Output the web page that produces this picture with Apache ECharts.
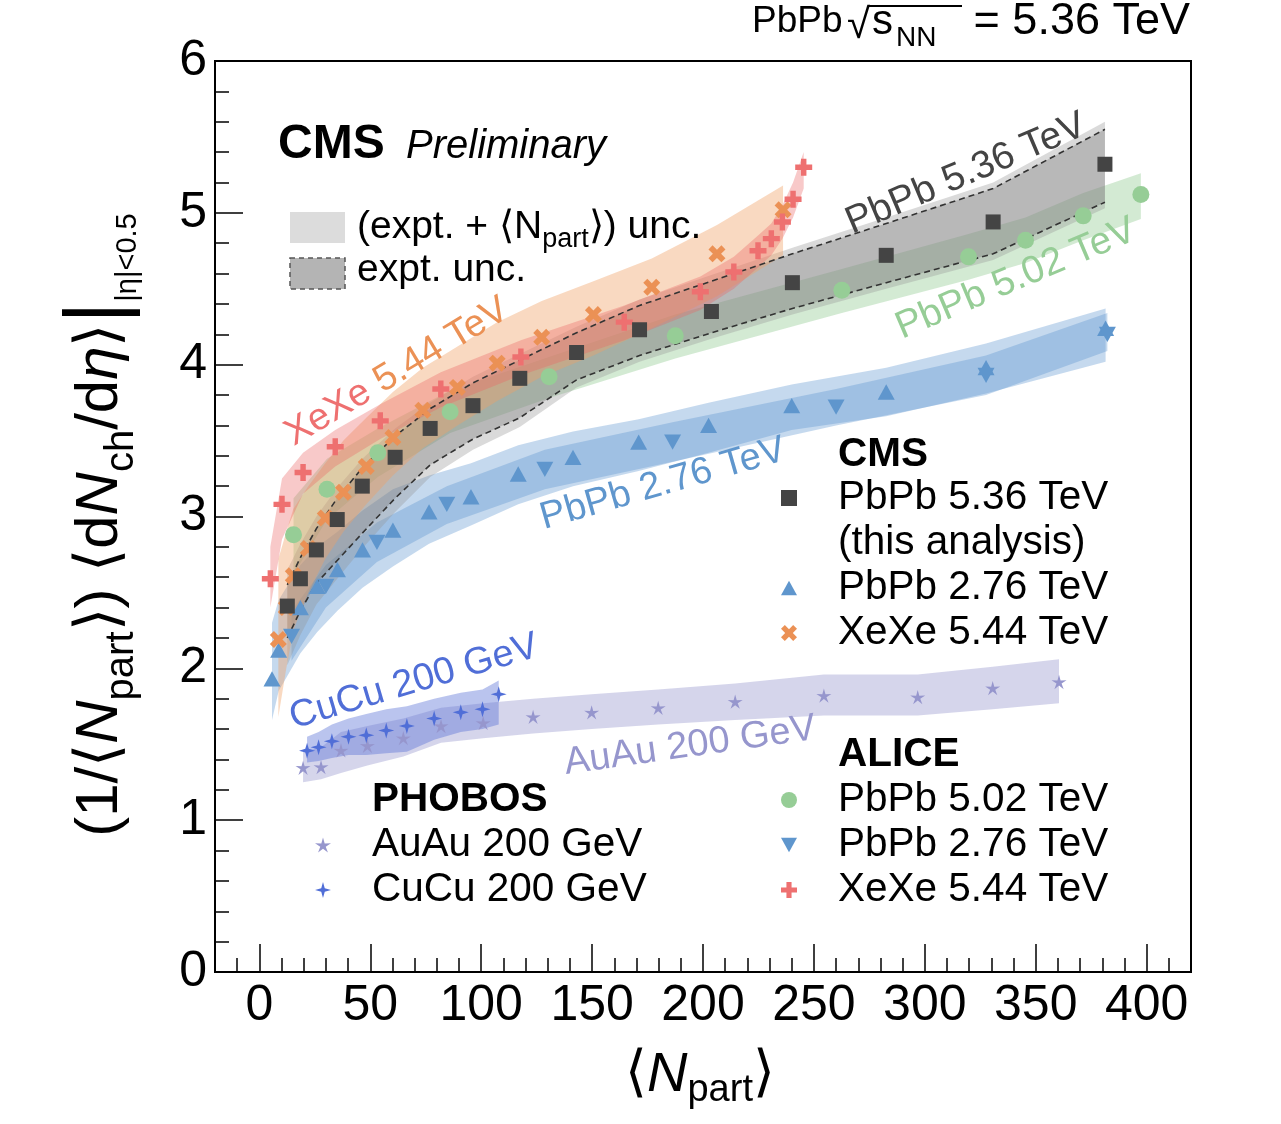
<!DOCTYPE html>
<html><head><meta charset="utf-8">
<script src="https://cdn.jsdelivr.net/npm/echarts/dist/echarts.min.js"></script>
<style>html,body{margin:0;padding:0;background:#fff}#c{width:1281px;height:1124px}</style>
</head><body><div id="c"></div>
<script>
// ---------- tick labels ----------
const xTicks = [0, 50, 100, 150, 200, 250, 300, 350, 400];
const yTicks = [0, 1, 2, 3, 4, 5, 6];

// ---------- CMS PbPb 5.36 TeV (this analysis) ----------
const cms536N = [12.6, 18.5, 25.7, 35.1, 46.4, 61.2, 77.0, 96.3, 117.4, 143.0, 171.4, 203.8, 240.3, 282.6, 330.8, 381.2];
const cms536Y = [2.41, 2.59, 2.78, 2.98, 3.20, 3.39, 3.58, 3.73, 3.91, 4.08, 4.23, 4.35, 4.54, 4.72, 4.94, 5.32];
const cms536InLo = [2.20, 2.38, 2.56, 2.71, 2.89, 3.12, 3.34, 3.51, 3.65, 3.90, 4.06, 4.21, 4.37, 4.54, 4.73, 5.07];
const cms536InHi = [2.55, 2.73, 2.92, 3.12, 3.32, 3.53, 3.71, 3.88, 4.03, 4.21, 4.39, 4.55, 4.73, 4.93, 5.16, 5.55];
const cms536OutLo = [2.02, 2.22, 2.42, 2.59, 2.79, 3.03, 3.26, 3.44, 3.59, 3.85, 4.02, 4.17, 4.33, 4.50, 4.69, 5.03];
const cms536OutHi = [2.65, 2.82, 3.00, 3.19, 3.38, 3.58, 3.75, 3.92, 4.07, 4.25, 4.43, 4.59, 4.77, 4.97, 5.20, 5.60];

// ---------- CMS PbPb 2.76 TeV ----------
const cms276N = [5.7, 8.7, 18.5, 26.1, 35.2, 46.5, 60.2, 76.5, 95.4, 116.7, 141.4, 171.0, 202.5, 240.0, 282.6, 327.6, 381.5];
const cms276Y = [1.93, 2.12, 2.40, 2.54, 2.65, 2.78, 2.91, 3.03, 3.13, 3.28, 3.39, 3.49, 3.60, 3.73, 3.82, 3.98, 4.24];
const cms276Lo = [1.66, 1.85, 2.10, 2.24, 2.38, 2.53, 2.67, 2.82, 2.94, 3.08, 3.20, 3.30, 3.42, 3.57, 3.66, 3.81, 4.02];
const cms276Hi = [2.30, 2.45, 2.68, 2.80, 2.90, 3.04, 3.18, 3.27, 3.35, 3.47, 3.56, 3.64, 3.75, 3.87, 3.98, 4.14, 4.37];

// ---------- CMS XeXe 5.44 TeV ----------
const cmsXeN = [8.55, 12.15, 15.3, 22.05, 29.7, 37.9, 48.2, 60.2, 73.7, 89.3, 107.2, 127.3, 150.6, 176.9, 206.3, 236.1];
const cmsXeY = [2.19, 2.40, 2.61, 2.79, 2.99, 3.16, 3.33, 3.52, 3.70, 3.85, 4.01, 4.18, 4.33, 4.51, 4.73, 5.02];
const cmsXeLo = [1.68, 2.00, 2.25, 2.50, 2.72, 2.90, 3.08, 3.27, 3.45, 3.60, 3.76, 3.92, 4.06, 4.24, 4.45, 4.72];
const cmsXeHi = [2.72, 2.90, 3.05, 3.20, 3.35, 3.50, 3.65, 3.82, 3.98, 4.12, 4.28, 4.42, 4.55, 4.70, 4.92, 5.18];

// ---------- ALICE PbPb 5.02 TeV ----------
const al502N = [15.4, 30.5, 53.4, 86.0, 130.6, 187.5, 262.6, 319.7, 345.4, 371.4, 397.4];
const al502Y = [2.88, 3.18, 3.42, 3.69, 3.92, 4.19, 4.49, 4.71, 4.82, 4.98, 5.12];
const al502Lo = [2.62, 2.98, 3.26, 3.55, 3.78, 4.04, 4.34, 4.56, 4.67, 4.82, 4.96];
const al502Hi = [3.12, 3.38, 3.58, 3.83, 4.05, 4.33, 4.63, 4.86, 4.97, 5.13, 5.26];

// ---------- ALICE PbPb 2.76 TeV ----------
const al276N = [14.5, 30.0, 53.0, 84.5, 128.7, 186.3, 260.0, 327.6, 382.3];
const al276Y = [2.21, 2.54, 2.83, 3.08, 3.31, 3.49, 3.72, 3.93, 4.20];
const al276Lo = [2.05, 2.40, 2.70, 2.95, 3.18, 3.36, 3.60, 3.80, 4.09];
const al276Hi = [2.38, 2.68, 2.96, 3.20, 3.44, 3.62, 3.84, 4.06, 4.34];

// ---------- ALICE XeXe 5.44 TeV ----------
const alXeN = [4.95, 10.2, 19.7, 34.2, 54.5, 81.8, 117.9, 164.5, 198.8, 213.9, 224.8, 230.8, 235.8, 240.6, 245.4];
const alXeY = [2.59, 3.08, 3.29, 3.46, 3.63, 3.84, 4.05, 4.28, 4.48, 4.61, 4.75, 4.83, 4.94, 5.09, 5.30];
const alXeLo = [2.40, 2.85, 3.15, 3.33, 3.51, 3.72, 3.93, 4.16, 4.36, 4.50, 4.64, 4.72, 4.83, 4.97, 5.16];
const alXeHi = [2.80, 3.25, 3.42, 3.57, 3.74, 3.95, 4.16, 4.39, 4.58, 4.71, 4.85, 4.93, 5.05, 5.20, 5.40];

// ---------- PHOBOS AuAu 200 GeV ----------
const auN = [19.7, 27.8, 36.8, 48.7, 64.9, 81.9, 100.9, 123.4, 149.8, 179.8, 214.5, 254.5, 296.8, 330.6, 360.5];
const auY = [1.345, 1.35, 1.46, 1.49, 1.54, 1.62, 1.64, 1.68, 1.71, 1.74, 1.78, 1.82, 1.81, 1.87, 1.91];
const auLo = [1.25, 1.27, 1.31, 1.36, 1.42, 1.51, 1.54, 1.57, 1.60, 1.63, 1.66, 1.69, 1.69, 1.73, 1.77];
const auHi = [1.45, 1.48, 1.58, 1.62, 1.67, 1.74, 1.77, 1.80, 1.83, 1.86, 1.90, 1.96, 1.96, 2.01, 2.06];

// ---------- PHOBOS CuCu 200 GeV ----------
const cuN = [21.5, 26.7, 32.7, 40.2, 48.2, 57.2, 66.5, 78.8, 90.8, 100.6, 107.9];
const cuY = [1.458, 1.48, 1.52, 1.55, 1.56, 1.59, 1.62, 1.67, 1.71, 1.73, 1.83];
const cuLo = [1.38, 1.39, 1.41, 1.43, 1.43, 1.44, 1.45, 1.53, 1.58, 1.60, 1.63];
const cuHi = [1.55, 1.58, 1.63, 1.67, 1.70, 1.73, 1.75, 1.80, 1.84, 1.86, 1.92];

// ---------- styling ----------
const FONT = '"Liberation Sans", Arial, Helvetica, sans-serif';
const C = {
  gray: '#444444', blue: '#5f96cd', orange: '#eb9155', green: '#96cd96',
  red: '#ee7070', lav: '#9696cd', cu: '#506ed7'
};
const SYM_X = 'path://M0,2.4L2.4,0L5,2.6L7.6,0L10,2.4L7.4,5L10,7.6L7.6,10L5,7.4L2.4,10L0,7.6L2.6,5Z';
const SYM_PLUS = 'path://M3.4,0H6.6V3.4H10V6.6H6.6V10H3.4V6.6H0V3.4H3.4Z';
const SYM_UP = 'path://M5,0L10,9L0,9Z';
const SYM_DOWN = 'path://M0,0L10,0L5,9Z';
const SYM_STAR4 = 'path://M5,0L6.1,3.9L10,5L6.1,6.1L5,10L3.9,6.1L0,5L3.9,3.9Z';
const SYM_STAR5 = 'path://M5,0L6,3.63L9.76,3.46L6.62,5.53L7.94,9.05L5,6.7L2.06,9.05L3.38,5.53L0.24,3.46L4,3.63Z';

function zip(a, b) { return a.map((v, i) => [v, b[i]]); }

function band(xs, lo, hi, fill, z) {
  return {
    type: 'custom', silent: true, z: z, clip: true,
    data: [[xs[0], lo[0]]],
    renderItem: function (params, api) {
      const pts = [];
      for (let i = 0; i < xs.length; i++) pts.push(api.coord([xs[i], hi[i]]));
      for (let i = xs.length - 1; i >= 0; i--) pts.push(api.coord([xs[i], lo[i]]));
      return { type: 'polygon', shape: { points: pts }, style: { fill: fill } };
    }
  };
}
function dashLine(xs, ys, z) {
  return {
    type: 'custom', silent: true, z: z, clip: true,
    data: [[xs[0], ys[0]]],
    renderItem: function (params, api) {
      const pts = xs.map((x, i) => api.coord([x, ys[i]]));
      return { type: 'polyline', shape: { points: pts },
        style: { stroke: '#333', lineWidth: 1.6, lineDash: [6, 4], fill: null } };
    }
  };
}
function sc(name, xs, ys, symbol, size, color) {
  return { type: 'scatter', name: name, data: zip(xs, ys), symbol: symbol, symbolSize: size,
    symbolKeepAspect: true, itemStyle: { color: color, opacity: 1 }, z: 10, silent: true };
}

const series = [
  band(auN, auLo, auHi, 'rgba(150,150,205,0.40)', 1),
  band(cuN, cuLo, cuHi, 'rgba(90,115,215,0.42)', 1),
  band(cms276N, cms276Lo, cms276Hi, 'rgba(90,145,205,0.35)', 1),
  band(al276N, al276Lo, al276Hi, 'rgba(90,145,205,0.35)', 1),
  band(al502N, al502Lo, al502Hi, 'rgba(140,200,140,0.38)', 1),
  band(cms536N, cms536OutLo, cms536OutHi, 'rgba(150,150,150,0.35)', 1),
  band(cms536N, cms536InLo, cms536InHi, 'rgba(120,120,120,0.35)', 1),
  band(cmsXeN, cmsXeLo, cmsXeHi, 'rgba(240,160,100,0.40)', 1),
  band(alXeN, alXeLo, alXeHi, 'rgba(235,100,100,0.35)', 1),
  dashLine(cms536N, cms536InLo, 2),
  dashLine(cms536N, cms536InHi, 2),
  sc('PHOBOS AuAu 200 GeV', auN, auY, SYM_STAR5, 15, C.lav),
  sc('PHOBOS CuCu 200 GeV', cuN, cuY, SYM_STAR4, 16, C.cu),
  sc('CMS PbPb 2.76 TeV', cms276N, cms276Y, SYM_UP, 17, C.blue),
  sc('ALICE PbPb 2.76 TeV', al276N, al276Y, SYM_DOWN, 17, C.blue),
  sc('ALICE PbPb 5.02 TeV', al502N, al502Y, 'circle', 17, C.green),
  sc('CMS XeXe 5.44 TeV', cmsXeN, cmsXeY, SYM_X, 17, C.orange),
  sc('ALICE XeXe 5.44 TeV', alXeN, alXeY, SYM_PLUS, 17, C.red),
  sc('CMS PbPb 5.36 TeV', cms536N, cms536Y, 'rect', 15, C.gray)
];

const LFS = 40.5;
const legendCommon = {
  orient: 'vertical', itemGap: 0, itemWidth: 16, itemHeight: 16, selectedMode: false, padding: 0,
  textStyle: { fontSize: LFS, fontFamily: FONT, color: '#000', lineHeight: 45, padding: [0, 0, 0, 36] },
  formatter: n => n.replace(/^(CMS|ALICE|PHOBOS) /, '')
};
const legends = [
  Object.assign({ left: 781, top: 475.5, data: ['CMS PbPb 5.36 TeV'] }, legendCommon),
  Object.assign({ left: 781, top: 565.5, data: ['CMS PbPb 2.76 TeV', 'CMS XeXe 5.44 TeV'] }, legendCommon),
  Object.assign({ left: 781, top: 777.5, data: ['ALICE PbPb 5.02 TeV', 'ALICE PbPb 2.76 TeV', 'ALICE XeXe 5.44 TeV'] }, legendCommon),
  Object.assign({ left: 315, top: 822.5, data: ['PHOBOS AuAu 200 GeV', 'PHOBOS CuCu 200 GeV'] }, legendCommon)
];

function txt(x, y, text, extra) {
  return { type: 'text', x: x, y: y, silent: true, z: 100,
    style: Object.assign({ text: text, fontSize: LFS, fontFamily: FONT, fill: '#000', align: 'left', verticalAlign: 'middle' }, extra || {}) };
}
function rotTxt(x, y, deg, text, extra) {
  const t = txt(x, y, text, Object.assign({ align: 'center' }, extra || {}));
  t.rotation = deg * Math.PI / 180;
  return t;
}
const subRich = {
  m: { fontSize: 39, fontFamily: FONT, verticalAlign: 'middle', lineHeight: 52 },
  s: { fontSize: 27, fontFamily: FONT, verticalAlign: 'bottom', lineHeight: 27 }
};

const graphics = [
  // top-right title
  txt(752, 22, 'PbPb', { fontSize: 37 }),
  txt(847, 26, '√', { fontSize: 42 }),
  txt(872, 22, 's', { fontSize: 42 }),
  txt(896, 38, 'NN', { fontSize: 28 }),
  txt(1190, 22, '= 5.36 TeV', { fontSize: 45, align: 'right' }),
  { type: 'line', silent: true, z: 100, shape: { x1: 869, y1: 6, x2: 962, y2: 6 }, style: { stroke: '#000', lineWidth: 2 } },
  // CMS Preliminary
  txt(278, 145, 'CMS', { fontSize: 48, fontWeight: 'bold' }),
  txt(406, 147, 'Preliminary', { fontSize: 40, fontStyle: 'italic' }),
  // uncertainty legend
  { type: 'rect', silent: true, z: 100, shape: { x: 290, y: 212, width: 55, height: 31 }, style: { fill: '#dcdcdc' } },
  { type: 'rect', silent: true, z: 100, shape: { x: 290, y: 258, width: 55, height: 31 },
    style: { fill: '#b4b4b4', stroke: '#555', lineWidth: 1.5, lineDash: [5, 4] } },
  txt(357, 227, '{m|(expt. + ⟨N}{s|part}{m|⟩) unc.}', { rich: subRich }),
  txt(357, 270, 'expt. unc.', { fontSize: 39 }),
  // legend headers
  txt(838, 455, 'CMS', { fontWeight: 'bold' }),
  txt(838, 543, '(this analysis)'),
  txt(838, 755, 'ALICE', { fontWeight: 'bold' }),
  txt(372, 800, 'PHOBOS', { fontWeight: 'bold' }),
  // band labels
  rotTxt(397, 372, 31, '{a|XeXe }{b|5.44 TeV}', { rich: {
    a: { fontSize: 38, fontFamily: FONT, fill: C.red }, b: { fontSize: 38, fontFamily: FONT, fill: C.orange } } }),
  rotTxt(966, 174, 23, 'PbPb 5.36 TeV', { fill: C.gray, fontSize: 38.5 }),
  rotTxt(1016, 279, 23, 'PbPb 5.02 TeV', { fill: C.green, fontSize: 38.5 }),
  rotTxt(663, 484, 16, 'PbPb 2.76 TeV', { fill: C.blue, fontSize: 38 }),
  rotTxt(414, 682, 16.5, 'CuCu 200 GeV', { fill: C.cu, fontSize: 38 }),
  rotTxt(690, 746, 8, 'AuAu 200 GeV', { fill: C.lav, fontSize: 38 }),
  // axis titles
  txt(700, 1075, '{n|⟨}{i|N}{s|part}{n|⟩}', { align: 'center', rich: {
    n: { fontSize: 56, fontFamily: FONT, verticalAlign: 'middle', lineHeight: 70 },
    i: { fontSize: 56, fontFamily: FONT, fontStyle: 'italic', verticalAlign: 'middle', lineHeight: 70 },
    s: { fontSize: 38, fontFamily: FONT, verticalAlign: 'bottom', lineHeight: 38 } } }),
  (function () {
    const t = txt(100, 525, '{n|(1/⟨}{i|N}{s|part}{n|⟩) ⟨d}{i|N}{s|ch}{n|/d}{i|η}{n|⟩}{b||}{t||η|<0.5}', { align: 'center', rich: {
      n: { fontSize: 60, fontFamily: FONT, verticalAlign: 'middle', lineHeight: 84 },
      i: { fontSize: 60, fontFamily: FONT, fontStyle: 'italic', verticalAlign: 'middle', lineHeight: 84 },
      s: { fontSize: 40, fontFamily: FONT, verticalAlign: 'bottom', lineHeight: 40 },
      b: { fontSize: 84, fontFamily: FONT, verticalAlign: 'middle', lineHeight: 84 },
      t: { fontSize: 29, fontFamily: FONT, verticalAlign: 'bottom', lineHeight: 22 } } });
    t.rotation = Math.PI / 2;
    return t;
  })()
];

const chart = echarts.init(document.getElementById('c'), null, { renderer: 'canvas' });
chart.setOption({
  animation: false,
  backgroundColor: '#fff',
  grid: { left: 215, right: 90, top: 61, bottom: 152, show: true, borderColor: '#000', borderWidth: 2, backgroundColor: 'transparent' },
  xAxis: [
    { type: 'value', min: -20, max: 420, position: 'bottom',
      axisLine: { show: true, onZero: false, lineStyle: { color: '#000', width: 2 } },
      axisTick: { show: true, inside: true, length: 28, lineStyle: { color: '#000', width: 1.5 }, customValues: xTicks },
      axisLabel: { show: true, customValues: xTicks, fontSize: 50, fontFamily: FONT, color: '#000', margin: 9 },
      splitLine: { show: false } },
    { type: 'value', min: -20, max: 420, interval: 10, position: 'bottom',
      axisLine: { show: false, onZero: false },
      axisTick: { show: true, inside: true, length: 14, lineStyle: { color: '#000', width: 1.5 } },
      axisLabel: { show: false }, splitLine: { show: false } }
  ],
  yAxis: [
    { type: 'value', min: 0, max: 6, interval: 1,
      axisLine: { show: true, onZero: false, lineStyle: { color: '#000', width: 2 } },
      axisTick: { show: true, inside: true, length: 28, lineStyle: { color: '#000', width: 1.5 } },
      minorTick: { show: true, splitNumber: 5, length: 14, lineStyle: { color: '#000', width: 1.5 } },
      axisLabel: { show: true, fontSize: 50, fontFamily: FONT, color: '#000', margin: 8,
        customValues: yTicks },
      splitLine: { show: false }, minorSplitLine: { show: false } }
  ],
  legend: legends,
  series: series,
  graphic: { elements: graphics }
});
</script></body></html>
